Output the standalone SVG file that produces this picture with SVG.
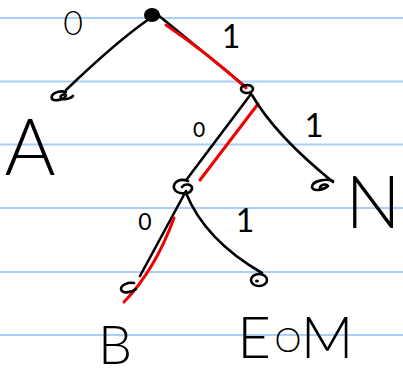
<svg xmlns="http://www.w3.org/2000/svg" width="403" height="378" viewBox="0 0 403 378">
<style>
.rule{stroke:#a8d0f8;stroke-width:2}
.ink{fill:none;stroke:#000;stroke-width:2.6;stroke-linecap:round;stroke-linejoin:round}
.red{fill:none;stroke:#f00000;stroke-width:3;stroke-linecap:round}
.t{font-family:Lato,Inter,"Liberation Sans",sans-serif;font-weight:300;fill:#000;text-anchor:middle}
.s{font-family:Lato,Inter,"Liberation Sans",sans-serif;font-weight:400;fill:#000;text-anchor:middle}
</style>
<rect width="403" height="378" fill="#fff"/>
<g id="paper">
<line class="rule" x1="0" y1="18" x2="403" y2="18"/>
<line class="rule" x1="0" y1="81.5" x2="403" y2="81.5"/>
<line class="rule" x1="0" y1="144.5" x2="403" y2="144.5"/>
<line class="rule" x1="0" y1="208" x2="403" y2="208"/>
<line class="rule" x1="0" y1="272" x2="403" y2="272"/>
<line class="rule" x1="0" y1="335" x2="403" y2="335"/>
</g>
<g id="connectors">
<path class="ink" d="M149,19 Q116,42 66,90"/>
<path class="ink" d="M158,15 L246,87"/>
<path class="red" d="M166,25 Q210,55 246,88"/>
<path class="ink" d="M251,94 L187,179"/>
<path class="red" d="M258,104 L200,180"/>
<path class="ink" d="M252,95 Q275,135 333,182"/>
<path class="ink" d="M186,191 L140,276"/>
<path class="red" d="M174,218 Q155,270 124,302"/>
<path class="ink" d="M186,193 Q205,240 262,273"/>
</g>
<g id="root"><ellipse cx="152" cy="15" rx="8" ry="7" fill="#000"/></g>
<g id="nodeA"><path class="ink" d="M66,92 C58,90 50,94 52,99 C55,102 66,99 66,95 C63,93 58,97 62,99 C66,100 71,98 73,96"/>
<text class="t" x="30" y="175" font-size="78">A</text></g>
<g id="node1"><ellipse class="ink" cx="247" cy="89" rx="6" ry="4"/></g>
<g id="node2"><path class="ink" d="M188,181 C180,178 173,182 174,188 C176,195 190,195 192,189 C193,184 185,183 182,187"/></g>
<g id="nodeN"><path class="ink" d="M333,181 C326,178 312,181 312,187 C313,192 324,190 328,186 C326,183 320,185 320,188"/>
<text class="t" x="373" y="228" font-size="73">N</text></g>
<g id="nodeB"><path class="ink" d="M134,283 C128,282 121,285 121,289 C122,294 131,293 136,289"/>
<text class="t" x="115" y="364" font-size="54">B</text></g>
<g id="nodeEOM"><ellipse class="ink" cx="259" cy="280" rx="8" ry="6"/><ellipse cx="257" cy="281" rx="2" ry="1.5" fill="#000"/>
<text class="t" x="254" y="358" font-size="58">E</text>
<text class="t" x="288" y="352" font-size="34">O</text>
<text class="t" x="327" y="358" font-size="58">M</text></g>
<g id="labels">
<text class="t" x="73" y="35" font-size="34">0</text>
<text class="s" x="231" y="48" font-size="32">1</text>
<text class="s" x="199" y="137" font-size="21">0</text>
<text class="s" x="314" y="137" font-size="33">1</text>
<text class="s" x="145" y="230" font-size="23">0</text>
<text class="s" x="245" y="232" font-size="32">1</text>
</g>
</svg>
